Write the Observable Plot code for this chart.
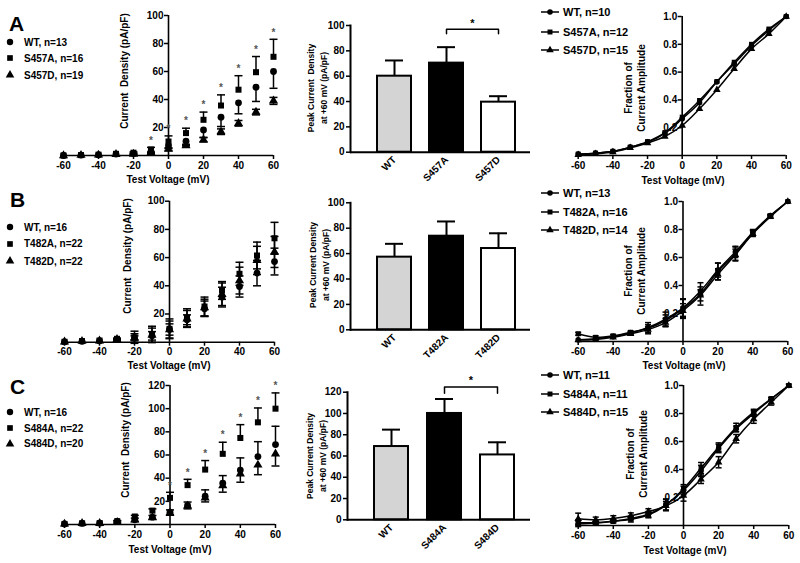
<!DOCTYPE html>
<html><head><meta charset="utf-8">
<script src="https://cdn.jsdelivr.net/npm/d3@7"></script>
<script src="https://cdn.jsdelivr.net/npm/@observablehq/plot@0.6"></script>
<style>
body{margin:0;background:#fff;}
#fig{position:relative;width:800px;height:563px;overflow:hidden;background:#fff;font-family:"Liberation Sans",Arial,Helvetica,sans-serif;font-weight:bold;color:#000;}
#fig .t{position:absolute;white-space:nowrap;line-height:1.25;text-align:center;}
#fig .lg{position:absolute;display:flex;align-items:center;white-space:nowrap;transform:translateY(-50%);}
</style></head><body><div id="fig"></div>
<script>
// ---------------- data ----------------
const voltages = [-60,-50,-40,-30,-20,-10,0,10,20,30,40,50,60];
const ivTicksX = [-60,-40,-20,0,20,40,60];

// Row A – current density (pA/pF)
const ivA_WT        = [0, 0.3, 0.5, 1.0, 1.5, 3.0, 7.0, 10.2, 18.3, 27.4, 37.6, 48.8, 60.0];
const ivA_WT_sem    = [0, 0, 0, 0, 0.5, 1.0, 2.0, 3.0, 5.3, 6.7, 7.8, 10.2, 12.0];
const ivA_S457A     = [0, 0.3, 0.6, 1.2, 2.0, 4.3, 10.0, 16.0, 25.5, 35.7, 47.0, 59.5, 70.5];
const ivA_S457A_sem = [0, 0, 0, 0, 0.5, 1.5, 4.0, 3.5, 5.5, 7.6, 10.0, 11.2, 12.5];
const ivA_S457D     = [0, 0.2, 0.4, 0.8, 1.0, 2.0, 4.5, 7.0, 11.2, 17.0, 23.0, 31.0, 39.0];
const ivA_S457D_sem = [0, 0, 0, 0, 0.5, 0.5, 1.0, 1.0, 1.5, 2.0, 2.0, 2.0, 2.5];
const starsA = [-10,0,10,20,30,40,50,60];

// Row B
const ivB_WT        = [0.3, 0.6, 1.0, 2.0, 3.0, 4.5, 9.0, 15.9, 23.7, 32.0, 39.5, 49.0, 57.2];
const ivB_WT_sem    = [0, 0, 0, 0.5, 1.5, 3.0, 4.0, 3.5, 5.5, 7.0, 7.5, 9.0, 9.5];
const ivB_T482A     = [0.3, 0.8, 1.2, 2.4, 3.5, 5.5, 9.5, 17.3, 25.3, 36.7, 48.5, 61.5, 73.7];
const ivB_T482A_sem = [0, 0, 0, 0.5, 4.3, 5.8, 7.0, 6.4, 6.7, 6.3, 8.2, 9.5, 11.3];
const ivB_T482D     = [0.3, 0.7, 1.0, 2.0, 3.0, 5.0, 9.0, 16.5, 24.5, 34.0, 43.7, 58.0, 64.0];
const ivB_T482D_sem = [0, 0, 0, 0.5, 3.0, 5.0, 6.0, 6.0, 6.0, 8.0, 9.5, 10.0, 11.0];

// Row C
const ivC_WT        = [0.5, 1.0, 1.2, 2.5, 4.0, 6.3, 10.6, 16.4, 24.4, 35.6, 47.0, 58.6, 69.0];
const ivC_WT_sem    = [0, 0, 0, 0.5, 1.5, 1.5, 2.0, 3.0, 5.5, 6.6, 10.5, 12.9, 15.8];
const ivC_S484A     = [0.5, 1.0, 1.2, 2.9, 6.9, 12.0, 23.0, 34.0, 47.4, 61.0, 74.7, 88.2, 100.0];
const ivC_S484A_sem = [0, 0, 0, 0.5, 1.0, 1.5, 4.8, 5.0, 7.8, 10.0, 11.5, 12.4, 13.6];
const ivC_S484D     = [0.5, 1.0, 1.0, 2.0, 4.0, 6.0, 10.0, 16.0, 23.0, 33.6, 43.7, 51.4, 61.0];
const ivC_S484D_sem = [0, 0, 0, 0.5, 1.5, 1.5, 2.0, 2.5, 3.5, 5.7, 7.2, 8.4, 10.5];
const starsC = [0,10,20,30,40,50,60];

// Peak current density at +60 mV (bars)
const barFills = ["#d4d4d4", "#000000", "#ffffff"];
const barNamesA = ["WT", "S457A", "S457D"];
const barA      = [60.0, 70.3, 39.5];
const barErrA   = [12.4, 12.6, 4.7];
const barNamesB = ["WT", "T482A", "T482D"];
const barB      = [57.2, 73.7, 64.0];
const barErrB   = [10.5, 11.6, 12.0];
const barNamesC = ["WT", "S484A", "S484D"];
const barC      = [68.9, 100.0, 61.0];
const barErrC   = [15.9, 13.6, 11.9];

// Fraction of current amplitude
const frA_WT    = [0.01, 0.017, 0.03, 0.06, 0.096, 0.16, 0.264, 0.38, 0.53, 0.66, 0.79, 0.90, 1.0];
const frA_S457A = [0.01, 0.017, 0.03, 0.06, 0.10, 0.165, 0.276, 0.396, 0.532, 0.671, 0.80, 0.91, 1.0];
const frA_S457D = [0.005, 0.012, 0.025, 0.055, 0.09, 0.137, 0.216, 0.336, 0.473, 0.624, 0.767, 0.875, 1.0];
const frA_sem   = [0,0,0,0,0,0,0,0,0,0,0,0,0];

const frB_WT        = [0.012, 0.02, 0.035, 0.06, 0.10, 0.16, 0.24, 0.36, 0.51, 0.64, 0.78, 0.90, 1.0];
const frB_WT_sem    = [0, 0, 0, 0.01, 0.02, 0.05, 0.06, 0.03, 0.05, 0.04, 0.02, 0.01, 0];
const frB_T482A     = [0.055, 0.03, 0.04, 0.066, 0.095, 0.15, 0.235, 0.34, 0.50, 0.625, 0.775, 0.895, 1.0];
const frB_T482A_sem = [0.01, 0.01, 0.01, 0.01, 0.04, 0.04, 0.07, 0.08, 0.06, 0.05, 0.02, 0.01, 0];
const frB_T482D     = [0.01, 0.015, 0.03, 0.055, 0.085, 0.135, 0.22, 0.33, 0.48, 0.62, 0.77, 0.89, 1.0];
const frB_T482D_sem = [0, 0, 0, 0.01, 0.02, 0.03, 0.05, 0.04, 0.04, 0.04, 0.02, 0.01, 0];

const frC_WT        = [0.012, 0.018, 0.03, 0.05, 0.08, 0.15, 0.25, 0.39, 0.55, 0.69, 0.80, 0.905, 1.0];
const frC_WT_sem    = [0.02, 0.01, 0.01, 0.01, 0.02, 0.04, 0.03, 0.04, 0.03, 0.02, 0.02, 0.01, 0];
const frC_S484A     = [0.02, 0.02, 0.03, 0.045, 0.075, 0.145, 0.262, 0.41, 0.56, 0.70, 0.81, 0.905, 1.0];
const frC_S484A_sem = [0.02, 0.01, 0.01, 0.02, 0.02, 0.04, 0.03, 0.04, 0.03, 0.03, 0.02, 0.01, 0];
const frC_S484D     = [0.048, 0.04, 0.05, 0.07, 0.10, 0.14, 0.214, 0.33, 0.452, 0.62, 0.76, 0.88, 1.0];
const frC_S484D_sem = [0.04, 0.02, 0.02, 0.02, 0.02, 0.03, 0.04, 0.03, 0.04, 0.03, 0.03, 0.02, 0.01];

// Legend labels
const legIV_A = ["WT, n=13", "S457A, n=16", "S457D, n=19"];
const legIV_B = ["WT, n=16", "T482A, n=22", "T482D, n=22"];
const legIV_C = ["WT, n=16", "S484A, n=22", "S484D, n=20"];
const legFr_A = ["WT, n=10", "S457A, n=12", "S457D, n=15"];
const legFr_B = ["WT, n=13", "T482A, n=16", "T482D, n=14"];
const legFr_C = ["WT, n=11", "S484A, n=11", "S484D, n=15"];
const symbols = ["circle", "square", "triangle"];

// ---------------- drawing ----------------
const fig = document.getElementById("fig");
const FONT = "'Liberation Sans', Arial, Helvetica, sans-serif";
const baseStyle = {fontFamily: FONT, fontSize: "10px", fontWeight: "bold", background: "none", overflow: "visible", color: "black"};

function dims(box, frame) {
  return {width: box.w, height: box.h,
    marginLeft: frame.x0 - box.x, marginRight: box.x + box.w - frame.x1,
    marginTop: frame.y0 - box.y, marginBottom: box.y + box.h - frame.y1};
}
function put(svg, box) {
  svg.style.position = "absolute";
  svg.style.left = box.x + "px";
  svg.style.top = box.y + "px";
  fig.append(svg);
}
const capSymbol = {draw(ctx, size) { const w = Math.sqrt(size / Math.PI); ctx.moveTo(-w, 0); ctx.lineTo(w, 0); }};

function rowsOf(mean, sem, dir) {
  return voltages.map((v, i) => ({v, m: mean[i], e: sem[i],
    lo: dir > 0 ? mean[i] : mean[i] - sem[i],
    hi: dir < 0 ? mean[i] : mean[i] + sem[i]}));
}
function errMarks(rows, dir, capR, sw) {
  const r = rows.filter(d => d.e > 0);
  const out = [Plot.ruleX(r, {x: "v", y1: "lo", y2: "hi", strokeWidth: sw})];
  if (dir >= 0) out.push(Plot.dot(r, {x: "v", y: "hi", symbol: capSymbol, r: capR, stroke: "black", strokeWidth: sw, fill: "none"}));
  if (dir <= 0) out.push(Plot.dot(r, {x: "v", y: "lo", symbol: capSymbol, r: capR, stroke: "black", strokeWidth: sw, fill: "none"}));
  return out;
}

function xyPanel(p) {
  const W = p.frame.x1 - p.frame.x0;
  const zeroDx = (0 - (-60)) / 120 * W;
  const marks = [
    Plot.ruleY([0], {strokeWidth: 1.6}),
    Plot.ruleX([0], {strokeWidth: 1.6}),
    Plot.axisX({ticks: ivTicksX, tickSize: 4, tickPadding: 2, tickFormat: d => String(d), label: null, strokeWidth: 1.5}),
    Plot.axisY({ticks: p.yTicks, tickSize: 4, tickPadding: 1, tickFormat: p.yFormat, label: null, dx: zeroDx, strokeWidth: 1.5})
  ];
  p.series.forEach((s, k) => {
    const rows = rowsOf(s.mean, s.sem, s.dir);
    if (p.lines) marks.push(Plot.line(rows, {x: "v", y: "m", curve: "catmull-rom", strokeWidth: 1.5}));
    marks.push(...errMarks(rows, s.dir, p.capR, 1.5));
    marks.push(Plot.dot(rows, {x: "v", y: "m", symbol: symbols[k], r: p.r, fill: "black"}));
  });
  if (p.stars) {
    const sq = p.series[1];
    marks.push(Plot.text(p.stars, {x: d => d, y: d => { const i = voltages.indexOf(d); return sq.mean[i] + sq.sem[i]; },
      text: () => "*", dy: -7, fill: "#555", fontSize: 10}));
  }
  const svg = Plot.plot({...dims(p.box, p.frame), x: {domain: [-60, 60]}, y: {domain: p.yDomain},
    style: baseStyle, marks});
  put(svg, p.box);
}

function barPanel(p) {
  const data = p.names.map((n, i) => ({name: n, value: p.values[i], top: p.values[i] + p.errs[i], fill: barFills[i]}));
  const insetL = 18, insetR = 6;
  const step = (p.frame.x1 - p.frame.x0 - insetL - insetR) / p.names.length;
  const marks = [
    Plot.ruleX(data, {x: "name", y1: "value", y2: "top", strokeWidth: 2}),
    Plot.tickY(data, {x: "name", y: "top", strokeWidth: 2, insetLeft: 8, insetRight: 8}),
    Plot.barY(data, {x: "name", y: "value", fill: "fill", stroke: "black", strokeWidth: 2}),
    Plot.ruleY([0], {strokeWidth: 2}),
    Plot.frame({anchor: "left", strokeWidth: 2}),
    Plot.axisY({ticks: p.yTicks, tickSize: 4, tickPadding: 2, label: null, strokeWidth: 1.5}),
    Plot.axisX({tickRotate: -45, tickSize: 0, tickPadding: 6, label: null})
  ];
  if (p.sig) {
    const [a, b] = p.sig.pair, h = p.sig.height, t = p.sig.drop;
    marks.push(Plot.line([{x: a, y: h - t}, {x: a, y: h}, {x: b, y: h}, {x: b, y: h - t}], {x: "x", y: "y", strokeWidth: 1.5}));
    marks.push(Plot.text([p.sig], {x: () => a, y: () => h, text: () => "*", dx: step / 2, dy: -6, fontSize: 11}));
  }
  const svg = Plot.plot({...dims(p.box, p.frame),
    x: {domain: p.names, paddingInner: 0.35, paddingOuter: 0.175, insetLeft: insetL, insetRight: insetR},
    y: {domain: p.yDomain}, color: {type: "identity"}, style: baseStyle, marks});
  put(svg, p.box);
}

// text helpers
function txt(html, x, y, opts = {}) {
  const d = document.createElement("div");
  d.className = "t";
  d.innerHTML = html;
  d.style.left = x + "px"; d.style.top = y + "px";
  d.style.fontSize = (opts.size || 10) + "px";
  if (opts.lh) d.style.lineHeight = opts.lh + "px";
  const tx = opts.anchor === "start" ? "0" : "-50%";
  d.style.transform = `translate(${tx},-50%)` + (opts.rotate ? ` rotate(${opts.rotate}deg)` : "");
  fig.append(d);
}
function symPath(k, r) {
  const type = [d3.symbolCircle, d3.symbolSquare, d3.symbolTriangle][k];
  return d3.symbol(type, r * r * Math.PI)();
}
function legend(labels, x, ys, opts) {
  labels.forEach((lab, k) => {
    const d = document.createElement("div");
    d.className = "lg";
    d.style.left = x + "px"; d.style.top = ys[k] + "px";
    d.style.fontSize = opts.size + "px";
    const w = opts.line ? 18 : 8;
    const line = opts.line ? `<line x1="0" x2="${w}" y1="6" y2="6" stroke="black" stroke-width="1.5"/>` : "";
    d.innerHTML = `<svg width="${w}" height="12" style="overflow:visible;margin-right:${opts.gap}px">${line}<path transform="translate(${w / 2},6)" d="${symPath(k, opts.r)}" fill="black"/></svg><span>${lab}</span>`;
    fig.append(d);
  });
}

// ---------------- panels ----------------
const yT100 = [20, 40, 60, 80, 100];
const yT120 = [20, 40, 60, 80, 100, 120];
const frTicks = [0.2, 0.4, 0.6, 0.8, 1.0];
const f1 = d3.format(".1f");

// Row A
xyPanel({box: {x: 0, y: 0, w: 290, h: 190}, frame: {x0: 63, x1: 273, y0: 15, y1: 155}, yDomain: [0, 100], yTicks: yT100,
  r: 3.4, capR: 4, stars: starsA,
  series: [{mean: ivA_WT, sem: ivA_WT_sem, dir: -1}, {mean: ivA_S457A, sem: ivA_S457A_sem, dir: 1}, {mean: ivA_S457D, sem: ivA_S457D_sem, dir: 0}]});
barPanel({box: {x: 290, y: 0, w: 250, h: 190}, frame: {x0: 350, x1: 530, y0: 25, y1: 151.7}, yDomain: [0, 100], yTicks: [0, 20, 40, 60, 80, 100],
  names: barNamesA, values: barA, errs: barErrA, sig: {pair: ["S457A", "S457D"], height: 97, drop: 3.5}});
xyPanel({box: {x: 540, y: 0, w: 260, h: 190}, frame: {x0: 577.7, x1: 785.7, y0: 16, y1: 155}, yDomain: [0, 1], yTicks: frTicks, yFormat: f1,
  r: 2.8, capR: 3, lines: true,
  series: [{mean: frA_WT, sem: frA_sem, dir: 0}, {mean: frA_S457A, sem: frA_sem, dir: 0}, {mean: frA_S457D, sem: frA_sem, dir: 0}]});

// Row B
xyPanel({box: {x: 0, y: 185, w: 290, h: 175}, frame: {x0: 64, x1: 274, y0: 200.7, y1: 341.7}, yDomain: [0, 100], yTicks: yT100,
  r: 3.4, capR: 4,
  series: [{mean: ivB_WT, sem: ivB_WT_sem, dir: 0}, {mean: ivB_T482A, sem: ivB_T482A_sem, dir: 0}, {mean: ivB_T482D, sem: ivB_T482D_sem, dir: 0}]});
barPanel({box: {x: 290, y: 185, w: 250, h: 175}, frame: {x0: 350, x1: 530, y0: 202.3, y1: 329.3}, yDomain: [0, 100], yTicks: [0, 20, 40, 60, 80, 100],
  names: barNamesB, values: barB, errs: barErrB});
xyPanel({box: {x: 540, y: 185, w: 260, h: 175}, frame: {x0: 577.7, x1: 787.3, y0: 201, y1: 341}, yDomain: [0, 1], yTicks: frTicks, yFormat: f1,
  r: 2.8, capR: 3, lines: true,
  series: [{mean: frB_WT, sem: frB_WT_sem, dir: 0}, {mean: frB_T482A, sem: frB_T482A_sem, dir: 0}, {mean: frB_T482D, sem: frB_T482D_sem, dir: 0}]});

// Row C
xyPanel({box: {x: 0, y: 365, w: 290, h: 198}, frame: {x0: 64, x1: 275, y0: 385, y1: 524}, yDomain: [0, 120], yTicks: yT120,
  r: 3.4, capR: 4, stars: starsC,
  series: [{mean: ivC_WT, sem: ivC_WT_sem, dir: 1}, {mean: ivC_S484A, sem: ivC_S484A_sem, dir: 1}, {mean: ivC_S484D, sem: ivC_S484D_sem, dir: -1}]});
barPanel({box: {x: 290, y: 365, w: 250, h: 198}, frame: {x0: 347, x1: 530, y0: 391.7, y1: 519.3}, yDomain: [0, 120], yTicks: [0, 20, 40, 60, 80, 100, 120],
  names: barNamesC, values: barC, errs: barErrC, sig: {pair: ["S484A", "S484D"], height: 125, drop: 6}});
xyPanel({box: {x: 540, y: 365, w: 260, h: 198}, frame: {x0: 577.7, x1: 788.3, y0: 385, y1: 525}, yDomain: [0, 1], yTicks: frTicks, yFormat: f1,
  r: 2.8, capR: 3, lines: true,
  series: [{mean: frC_WT, sem: frC_WT_sem, dir: 0}, {mean: frC_S484A, sem: frC_S484A_sem, dir: 0}, {mean: frC_S484D, sem: frC_S484D_sem, dir: 0}]});

// ---------------- titles & legends ----------------
txt("A", 9, 24, {size: 21, anchor: "start"});
txt("B", 10, 200, {size: 21, anchor: "start"});
txt("C", 10, 387, {size: 21, anchor: "start"});

txt("Test Voltage (mV)", 168, 180);
txt("Test Voltage (mV)", 169, 366);
txt("Test Voltage (mV)", 170, 550);
txt("Test Voltage (mV)", 683, 181);
txt("Test Voltage (mV)", 684, 366);
txt("Test Voltage (mV)", 685, 551);

txt("Current&nbsp; Density (pA/pF)", 125, 71, {rotate: -90});
txt("Current&nbsp; Density (pA/pF)", 128, 256, {rotate: -90});
txt("Current&nbsp; Density (pA/pF)", 126, 440, {rotate: -90});

txt("Peak Current&nbsp; Density<br>at +60 mV (pA/pF)", 318, 88, {rotate: -90, size: 8.5, lh: 12.6});
txt("Peak Current Density<br>at +60 mV (pA/pF)", 319.7, 265, {rotate: -90, size: 8.5, lh: 12.6});
txt("Peak Current Density<br>at +60 mV (pA/pF)", 317.3, 456, {rotate: -90, size: 8.5, lh: 12.8});

txt("Fraction of<br>Current Amplitude", 636.3, 88, {rotate: -90, size: 10, lh: 12.7});
txt("Fraction of<br>Current Amplitude", 636.3, 271, {rotate: -90, size: 10, lh: 12.7});
txt("Fraction of<br>Current Amplitude", 638, 454, {rotate: -90, size: 10, lh: 12.7});

legend(legIV_A, 6, [42, 58, 75], {size: 10, r: 3.2, gap: 10});
legend(legIV_B, 6, [227, 243.5, 261], {size: 10, r: 3.2, gap: 10});
legend(legIV_C, 6, [412, 428, 443.5], {size: 10, r: 3.2, gap: 10});
legend(legFr_A, 541, [12, 31.5, 50], {size: 11, r: 2.8, gap: 4, line: true});
legend(legFr_B, 541, [193, 211.5, 230], {size: 11, r: 2.8, gap: 4, line: true});
legend(legFr_C, 541, [375, 393.5, 411.5], {size: 11, r: 2.8, gap: 4, line: true});
</script></body></html>
